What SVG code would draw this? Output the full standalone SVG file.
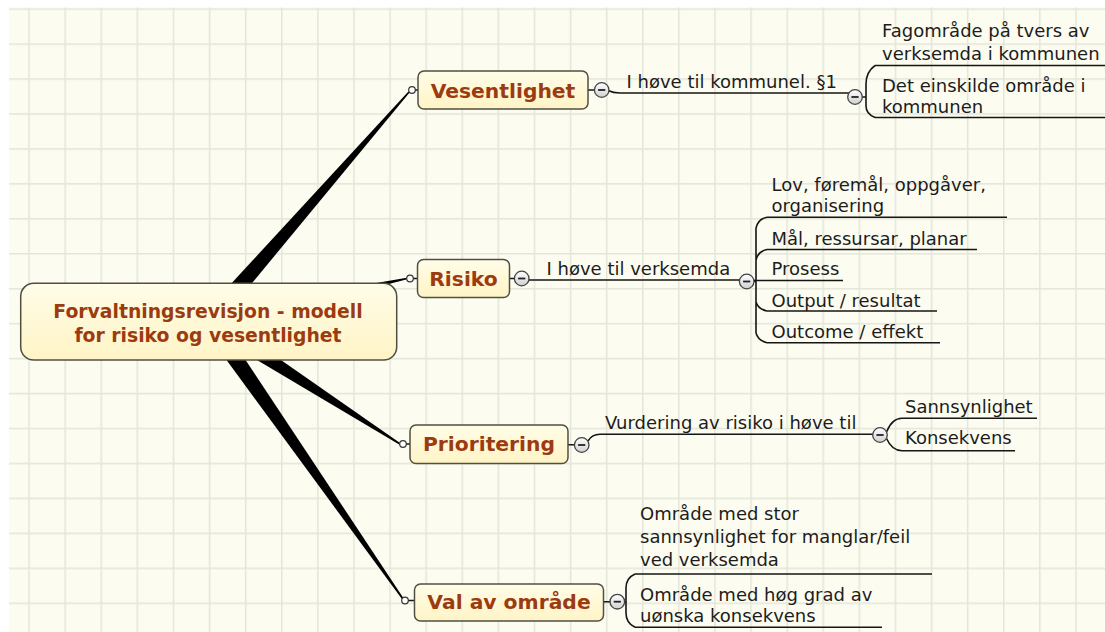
<svg xmlns="http://www.w3.org/2000/svg" xmlns:xlink="http://www.w3.org/1999/xlink" width="1105" height="632" viewBox="0 0 1105 632">
<style>
.bg{fill:#fcfcf0}
.box{fill:url(#boxfill);stroke:#4f4f42;stroke-width:1.5}
.main{font-family:"DejaVu Sans",Verdana,sans-serif;font-weight:bold;font-size:20.3px;fill:#9c3b10;text-anchor:middle}
.central{font-size:18.8px}
.txt{font-family:"DejaVu Sans",Verdana,sans-serif;font-size:18px;fill:#1c1c1c}
.ln{fill:none;stroke:#151515;stroke-width:1.6}
.wedge{fill:#000}
.dot{fill:#fff;stroke:#333;stroke-width:1.2}
.bc{fill:url(#btnfill);stroke:#444;stroke-width:1.3}
.bm{stroke:#222;stroke-width:1.8}
</style>
<defs>
<linearGradient id="boxfill" x1="0" y1="0" x2="0" y2="1">
<stop offset="0" stop-color="#fffde8"/>
<stop offset="1" stop-color="#fff4c6"/>
</linearGradient>
<linearGradient id="btnfill" x1="0" y1="0" x2="0" y2="1">
<stop offset="0" stop-color="#ffffff"/>
<stop offset="1" stop-color="#d0d0d0"/>
</linearGradient>
<pattern id="grid" patternUnits="userSpaceOnUse" x="28.3" y="43.3" width="36.1" height="34.95">
<path d="M0.75,0V34.95M0,0.75H36.1" fill="none" stroke="#e3e6d9" stroke-width="1.5"/>
</pattern>
<g id="btn">
<circle class="bc" cx="0" cy="0" r="7.3"/>
<line class="bm" x1="-3.6" y1="0" x2="3.6" y2="0"/>
</g>
</defs>

<rect x="0" y="0" width="1105" height="632" fill="#ffffff"/>
<rect class="bg" x="9" y="7.5" width="1096" height="624.5"/>
<rect x="9" y="7.5" width="1096" height="624.5" fill="url(#grid)"/>

<g id="connectors">
<polygon class="wedge" points="202.2,315.1 408.4,91.5 409.6,92.5 215.8,326.9"/>
<polygon class="wedge" points="207.1,312.2 406.8,277.7 407.2,279.3 210.9,329.8"/>
<polygon class="wedge" points="213.9,313.4 400.4,443.3 399.6,444.7 204.1,328.6"/>
<polygon class="wedge" points="216.4,315.9 403.7,598.5 402.3,599.5 201.6,326.1"/>
<path class="ln" d="M415,90H418M413,278.5H417.5M406,444H410M408,600.5H414.5"/>
<circle class="dot" cx="412" cy="90" r="3.3"/>
<circle class="dot" cx="410" cy="278.5" r="3.3"/>
<circle class="dot" cx="403" cy="444" r="3.3"/>
<circle class="dot" cx="405" cy="600.5" r="3.3"/>
<path class="ln" d="M588,90H595M509.5,278.5H515M568,444.8H575M603.5,601.7H610.5"/>
<path class="ln" d="M608,90.5Q613,93 620,93H849Q852,94 853,95"/>
<path class="ln" d="M862,97H866M875,65.5Q866,72 866,84V106Q866,114 875,117.5"/>
<path class="ln" d="M528,280H740"/>
<path class="ln" d="M754,281.5H756M756,228Q758,219 767,217.3M756,260Q758,251.5 767,249.5M756,302Q758,309 767,311M756,333Q758,340.5 767,342.7M756,228V333"/>
<path class="ln" d="M588,441Q592,434.3 600,434.3H873"/>
<path class="ln" d="M886.5,432Q892,418.3 902,418.3M886.5,438.5Q892,450.7 902,450.7"/>
<path class="ln" d="M624,601.7H626M635,574Q626,578 626,588V613Q626,623 635,627.3"/>
</g>

<g id="node-central">
<rect class="box" x="20.7" y="283.3" width="376" height="76.7" rx="13"/>
<text class="main central" x="208" y="318">Forvaltningsrevisjon - modell</text>
<text class="main central" x="208" y="342">for risiko og vesentlighet</text>
</g>

<g id="node-vesentlighet">
<rect class="box" x="418" y="71" width="170" height="38" rx="6"/>
<text class="main" x="503" y="97.5">Vesentlighet</text>
<use xlink:href="#btn" x="601.7" y="90"/>
</g>
<g id="node-v-label">
<text class="txt" x="626.5" y="88">I høve til kommunel. §1</text>
<use xlink:href="#btn" x="855" y="97"/>
</g>
<g id="node-v-1">
<text class="txt" x="882" y="37">Fagområde på tvers av</text>
<text class="txt" x="882" y="59.5">verksemda i kommunen</text>
<path class="ln" d="M875,65.5H1105"/>
</g>
<g id="node-v-2">
<text class="txt" x="882" y="91.5">Det einskilde område i</text>
<text class="txt" x="882" y="113">kommunen</text>
<path class="ln" d="M875,117.5H1105"/>
</g>

<g id="node-risiko">
<rect class="box" x="417.5" y="259.5" width="92" height="38" rx="6"/>
<text class="main" x="463.5" y="286">Risiko</text>
<use xlink:href="#btn" x="521.7" y="278.5"/>
</g>
<g id="node-r-label">
<text class="txt" x="546.5" y="275">I høve til verksemda</text>
<use xlink:href="#btn" x="746.7" y="281.5"/>
</g>
<g id="node-r-1">
<text class="txt" x="771.5" y="191">Lov, føremål, oppgåver,</text>
<text class="txt" x="771.5" y="212">organisering</text>
<path class="ln" d="M767,217.3H1007"/>
</g>
<g id="node-r-2">
<text class="txt" x="771.5" y="244.5">Mål, ressursar, planar</text>
<path class="ln" d="M767,249.5H977"/>
</g>
<g id="node-r-3">
<text class="txt" x="771.5" y="275">Prosess</text>
<path class="ln" d="M754,280.5H843"/>
</g>
<g id="node-r-4">
<text class="txt" x="771.5" y="306.5">Output / resultat</text>
<path class="ln" d="M767,311H937"/>
</g>
<g id="node-r-5">
<text class="txt" x="771.5" y="338">Outcome / effekt</text>
<path class="ln" d="M767,342.7H940"/>
</g>

<g id="node-prioritering">
<rect class="box" x="410" y="425" width="158" height="38.5" rx="6"/>
<text class="main" x="489" y="450.5">Prioritering</text>
<use xlink:href="#btn" x="581.7" y="445"/>
</g>
<g id="node-p-label">
<text class="txt" x="605" y="429">Vurdering av risiko i høve til</text>
<use xlink:href="#btn" x="880" y="435"/>
</g>
<g id="node-p-1">
<text class="txt" x="905" y="412.5">Sannsynlighet</text>
<path class="ln" d="M902,418.3H1037"/>
</g>
<g id="node-p-2">
<text class="txt" x="905" y="444">Konsekvens</text>
<path class="ln" d="M902,450.7H1015"/>
</g>

<g id="node-val">
<rect class="box" x="414.5" y="584" width="189" height="37" rx="6"/>
<text class="main" x="509" y="608.5">Val av område</text>
<use xlink:href="#btn" x="617.3" y="601.7"/>
</g>
<g id="node-val-1">
<text class="txt" x="640" y="520">Område med stor</text>
<text class="txt" x="640" y="543">sannsynlighet for manglar/feil</text>
<text class="txt" x="640" y="566">ved verksemda</text>
<path class="ln" d="M635,574H932"/>
</g>
<g id="node-val-2">
<text class="txt" x="640" y="601">Område med høg grad av</text>
<text class="txt" x="640" y="622">uønska konsekvens</text>
<path class="ln" d="M635,627.3H882"/>
</g>
</svg>
